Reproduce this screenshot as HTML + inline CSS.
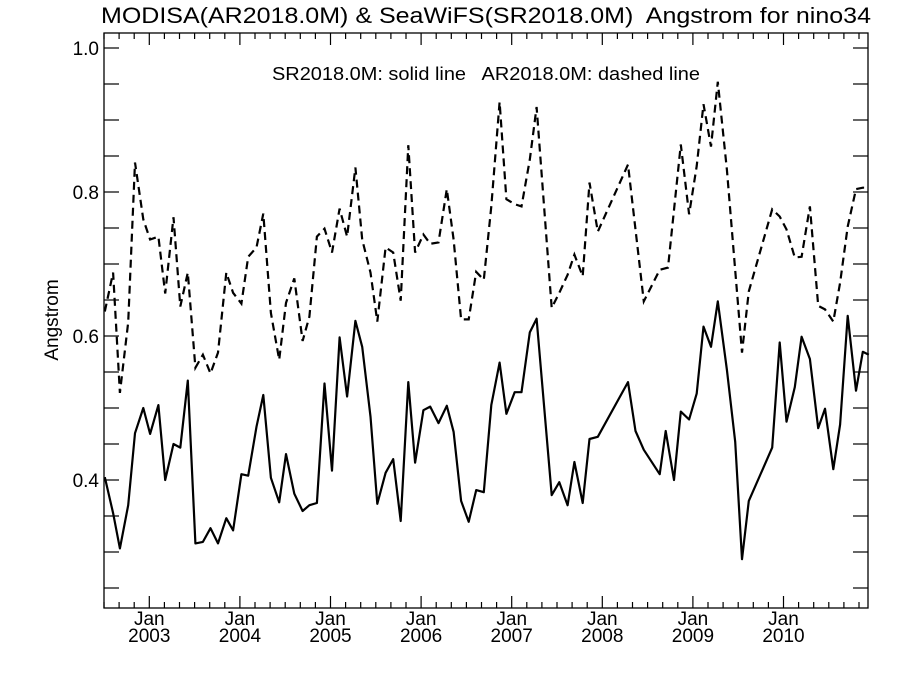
<!DOCTYPE html>
<html><head><meta charset="utf-8"><style>
html,body{margin:0;padding:0;background:#fff;}
svg{display:block;font-family:"Liberation Sans",Arial,sans-serif;}
text{white-space:pre;}
</style></head><body>
<svg id="chart" width="900" height="675" viewBox="0 0 900 675" xmlns="http://www.w3.org/2000/svg" xml:space="preserve">
<text x="486" y="23" font-size="22.5" text-anchor="middle" textLength="770" lengthAdjust="spacingAndGlyphs">MODISA(AR2018.0M) &amp; SeaWiFS(SR2018.0M)  Angstrom for nino34</text>
<text x="486" y="80" font-size="18" text-anchor="middle" textLength="428" lengthAdjust="spacingAndGlyphs">SR2018.0M: solid line   AR2018.0M: dashed line</text>
<text transform="translate(58,320) rotate(-90)" font-size="19" text-anchor="middle">Angstrom</text>
<g id="axes"></g>
<g id="series"></g>
</svg>
<script>
// months since Jul 2002
const solidT=[0.1,1.2,2.1,3.2,4.1,5.2,6.1,7.2,8.1,9.2,10.1,11.1,12.1,13.1,14.1,15.1,16.2,17.1,18.2,19.1,20.2,21.1,22.1,23.2,24.1,25.2,26.3,27.2,28.2,29.2,30.2,31.2,32.2,33.3,34.2,35.3,36.2,37.3,38.3,39.3,40.3,41.2,42.3,43.2,44.3,45.4,46.3,47.3,48.3,49.3,50.3,51.3,52.4,53.3,54.4,55.3,56.4,57.3,59.3,60.3,61.4,62.3,63.4,64.3,65.4,69.4,70.4,71.5,73.6,74.4,75.5,76.4,77.5,78.5,79.4,80.4,81.3,82.5,83.6,84.5,85.4,88.5,89.5,90.4,91.5,92.4,93.5,94.6,95.5,96.6,97.5,98.5,99.6,100.5,101.3];
const solidV=[0.404,0.354,0.305,0.365,0.465,0.500,0.464,0.504,0.400,0.450,0.445,0.538,0.312,0.314,0.333,0.312,0.347,0.330,0.408,0.406,0.474,0.518,0.403,0.369,0.436,0.381,0.357,0.365,0.368,0.534,0.413,0.598,0.516,0.621,0.585,0.488,0.367,0.410,0.429,0.343,0.536,0.424,0.497,0.502,0.479,0.503,0.467,0.371,0.342,0.386,0.383,0.504,0.563,0.492,0.522,0.522,0.605,0.624,0.379,0.397,0.365,0.425,0.368,0.457,0.460,0.536,0.468,0.442,0.408,0.468,0.400,0.495,0.484,0.520,0.613,0.585,0.648,0.553,0.453,0.290,0.371,0.445,0.591,0.481,0.529,0.599,0.568,0.472,0.499,0.415,0.477,0.628,0.524,0.578,0.574];
const dashT=[0.1,1.2,2.1,3.2,4.1,5.2,6.1,7.2,8.1,9.2,10.1,11.1,12.1,13.1,14.1,15.1,16.2,17.1,18.2,19.1,20.2,21.1,22.1,23.2,24.1,25.2,26.3,27.2,28.2,29.2,30.2,31.2,32.2,33.3,34.2,35.3,36.2,37.3,38.3,39.3,40.3,41.2,42.3,43.2,44.3,45.4,46.3,47.3,48.3,49.3,50.3,51.3,52.4,53.3,54.4,55.3,56.4,57.3,59.3,60.3,61.4,62.3,63.4,64.3,65.4,69.4,71.5,73.6,74.7,76.4,77.5,78.5,79.4,80.4,81.3,82.5,84.5,85.4,88.5,89.5,90.4,91.5,92.4,93.5,94.6,95.5,96.6,97.5,98.5,99.6,100.5,101.3];
const dashV=[0.634,0.688,0.521,0.619,0.841,0.762,0.734,0.738,0.659,0.765,0.641,0.688,0.556,0.574,0.548,0.577,0.688,0.660,0.645,0.710,0.723,0.770,0.632,0.567,0.646,0.680,0.593,0.627,0.738,0.749,0.716,0.777,0.738,0.834,0.734,0.688,0.620,0.723,0.716,0.649,0.865,0.716,0.741,0.728,0.730,0.804,0.734,0.623,0.623,0.689,0.678,0.780,0.925,0.790,0.783,0.780,0.845,0.918,0.639,0.660,0.685,0.713,0.683,0.813,0.745,0.838,0.648,0.692,0.695,0.866,0.769,0.836,0.922,0.863,0.953,0.831,0.577,0.662,0.776,0.766,0.748,0.709,0.710,0.780,0.642,0.637,0.620,0.674,0.752,0.804,0.806,0.806];
const yTickLabels=["0.4","0.6","0.8","1.0"];
const xTickYears=["2003","2004","2005","2006","2007","2008","2009","2010"];

const NS="http://www.w3.org/2000/svg";
const L=104,R=868,T=33,B=608;
const xS=t=>104+t*7.55;
const yS=v=>480-(v-0.4)*720;
const axes=document.getElementById('axes'), ser=document.getElementById('series');
function mk(tag,attrs,parent){const e=document.createElementNS(NS,tag);for(const k in attrs)e.setAttribute(k,attrs[k]);parent.appendChild(e);return e;}
const frame=mk('rect',{x:L,y:T,width:R-L,height:B-T,fill:'none',stroke:'#000','stroke-width':1.3},axes);


for(let v=0.25;v<=1.0001;v+=0.05){
  const y=yS(v);
  const t1=mk('line',{x1:L,x2:L+15,y1:y,y2:y,stroke:'#000','stroke-width':1.2},axes);
  
  
  const t2=mk('line',{x1:R,x2:R-15,y1:y,y2:y,stroke:'#000','stroke-width':1.2},axes);
  
  
}
yTickLabels.forEach(s=>{
  const tx=mk('text',{x:99,y:yS(parseFloat(s))+7,'font-size':19,'text-anchor':'end'},axes);
  tx.textContent=s;
  
  
});
for(let m=-6;m<=96;m+=2){
  const t=6+m; if(t<0||t>101.5)continue;
  const x=xS(t); const major=(m%12===0); const len=major?12:6;
  const a=mk('line',{x1:x,x2:x,y1:B,y2:B-len,stroke:'#000','stroke-width':1.2},axes);
  
  
  const b=mk('line',{x1:x,x2:x,y1:T,y2:T+len,stroke:'#000','stroke-width':1.2},axes);
  
  
}
xTickYears.forEach((yr,i)=>{
  const x=xS(6+12*i);
  const a=mk('text',{x:x,y:625,'font-size':19,'text-anchor':'middle'},axes);
  a.textContent='Jan';
  
  
  const b=mk('text',{x:x,y:642,'font-size':19,'text-anchor':'middle'},axes);
  b.textContent=yr;
  
  
});
function path(ts,vs){return ts.map((t,i)=>(i?'L':'M')+xS(t).toFixed(1)+' '+yS(vs[i]).toFixed(1)).join(' ');}
const s=mk('path',{d:path(solidT,solidV),fill:'none',stroke:'#000','stroke-width':2.2,'stroke-linejoin':'round'},ser);


const d=mk('path',{d:path(dashT,dashV),fill:'none',stroke:'#000','stroke-width':2.2,'stroke-dasharray':'8 5'},ser);


</script>
</body></html>
